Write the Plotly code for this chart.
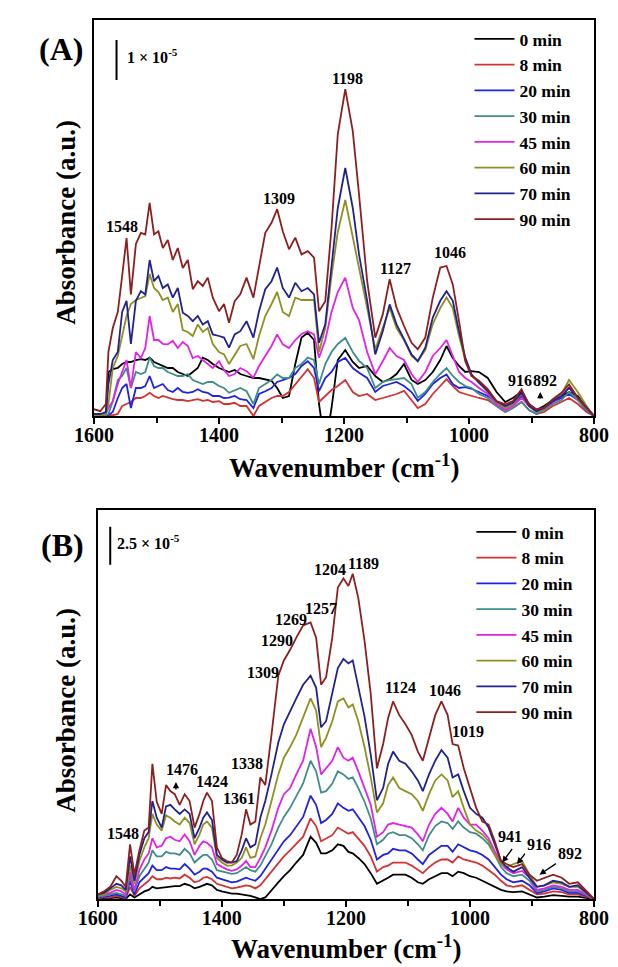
import plotly.graph_objects as go

W, H = 618, 967

labels = ["0 min", "8 min", "20 min", "30 min", "45 min", "60 min", "70 min", "90 min"]
colors = ["#000000", "#d43232", "#2121e0", "#3f8c8c", "#e023e6", "#8f8f22", "#22228c", "#8c1f1f"]

# ---------------- Panel A ----------------
wn_a = [1600,1590,1581,1577,1570,1562,1555,1548,1541,1533, 1525,1518,1511,1504,1497,1490,1482,1474,1466,1458,
        1450,1442,1434,1426,1418,1410,1400,1392,1384,1375, 1366,1356,1345,1336,1326,1316,1307,1298,1288,1278,
        1268,1258,1248,1240,1230,1220,1210,1198,1186,1176, 1163,1150,1138,1127,1116,1104,1092,1082,1070,1058,
        1046,1036,1026,1016,1006,996,984,970,956,942, 930,916,904,892,880,866,852,840,826,812, 800]

a0 = [0.02,0.02,0.02,1.1,1.17,1.2,1.3,1.35,1.35,1.4, 1.42,1.4,1.46,1.35,1.3,1.25,1.2,1.2,1.1,1.05,
      1.0,1.1,1.2,1.46,1.4,1.3,1.2,1.15,1.1,1.15, 1.05,1.0,0.95,0.95,0.92,0.88,0.7,0.45,0.5,1.3,
      1.96,2.08,1.9,0.3,-0.8,0.2,1.4,1.65,1.35,1.2, 1.25,1.0,0.85,0.92,1.05,1.3,0.9,0.8,0.9,1.1,
      1.4,1.75,1.45,1.25,1.1,1.12,1.1,0.95,0.6,0.35, 0.45,0.6,0.3,0.15,0.25,0.4,0.5,0.6,0.5,0.2, 0.0]
a8 = [0.02,0.02,0.02,0.02,0.02,0.05,0.25,0.3,0.35,0.45, 0.45,0.5,0.58,0.5,0.45,0.5,0.45,0.42,0.4,0.4,
      0.37,0.4,0.42,0.38,0.4,0.35,0.37,0.3,0.3,0.33, 0.25,0.25,0.0,0.25,0.35,0.45,0.5,0.5,0.6,0.8,
      1.0,1.17,0.95,0.35,0.5,0.65,0.75,0.9,0.6,0.5, 0.55,0.4,0.45,0.5,0.55,0.63,0.38,0.2,0.3,0.55,
      0.75,0.92,0.75,0.6,0.55,0.5,0.45,0.4,0.25,0.1, 0.2,0.35,0.15,0.05,0.1,0.25,0.35,0.45,0.3,0.1, 0.0]
a20 = [0.02,0.02,0.02,0.02,0.1,0.45,0.7,0.8,0.2,0.7, 0.7,0.75,1.0,0.7,0.75,0.8,0.65,0.6,0.7,0.6,
       0.58,0.6,0.67,0.6,0.58,0.5,0.5,0.45,0.46,0.5, 0.42,0.4,0.2,0.55,0.62,0.7,0.85,0.9,0.95,1.05,
       1.25,1.37,1.2,0.62,0.95,1.1,1.35,1.45,1.2,1.08, 0.95,0.6,0.75,0.8,0.85,0.75,0.6,0.38,0.55,0.8,
       0.95,1.04,0.8,0.7,0.72,0.68,0.6,0.5,0.35,0.2, 0.3,0.5,0.25,0.12,0.2,0.35,0.45,0.55,0.4,0.15, 0.0]
a30 = [0.02,0.02,0.02,0.05,0.37,0.9,1.0,1.2,0.7,1.1, 1.05,1.1,1.46,1.25,1.2,1.2,1.1,1.05,1.0,1.0,
       1.05,0.9,0.85,0.8,0.85,0.85,0.75,0.7,0.58,0.65, 0.7,0.62,0.3,0.7,0.8,0.9,1.04,0.95,0.95,1.2,
       1.3,1.46,1.4,0.8,1.3,1.6,1.8,1.95,1.6,1.38, 1.2,0.7,0.85,0.9,0.92,0.95,0.8,0.46,0.6,0.85,
       1.05,1.2,1.0,0.85,0.75,0.7,0.55,0.45,0.25,0.1, 0.2,0.35,0.15,0.05,0.15,0.3,0.4,0.6,0.4,0.15, 0.0]
a45 = [0.02,0.02,0.05,0.2,0.37,0.8,1.1,1.4,0.7,1.6, 1.45,1.7,2.5,1.9,1.9,1.8,1.79,1.88,1.7,1.85,
       1.75,1.45,1.5,1.4,1.3,1.2,1.37,1.15,1.0,1.05, 1.2,1.12,0.96,1.25,1.5,1.75,2.04,1.79,1.7,1.9,
       2.05,2.12,2.04,1.46,1.9,2.6,3.1,3.46,2.7,2.4, 1.6,1.04,1.37,1.7,1.5,1.4,1.05,0.85,1.1,1.5,
       1.7,1.9,1.5,1.1,0.95,0.85,0.7,0.55,0.3,0.15, 0.25,0.45,0.25,0.1,0.2,0.35,0.5,0.7,0.45,0.2, 0.0]
a60 = [0.02,0.02,0.05,0.3,1.2,1.5,2.0,2.5,2.8,2.9, 2.95,3.0,3.55,3.2,3.1,2.9,2.96,2.6,2.8,2.15,
       2.1,2.0,2.29,2.1,2.2,1.8,1.6,1.54,1.3,1.54, 1.75,1.8,1.42,2.0,2.5,2.8,3.1,2.6,2.5,2.96,
       2.9,2.9,2.9,1.6,2.2,3.5,4.6,5.4,4.5,3.7, 2.7,1.67,2.2,2.7,2.2,1.9,1.5,1.37,1.65,2.3,
       2.7,2.96,2.7,2.0,1.4,1.0,0.85,0.6,0.35,0.2, 0.3,0.55,0.25,0.1,0.2,0.4,0.55,0.9,0.6,0.25, 0.0]
a70 = [0.05,0.05,0.1,0.8,1.4,1.6,2.6,2.88,1.8,2.88, 3.12,3.04,3.9,3.37,3.5,3.2,3.29,2.96,3.2,2.58,
       2.5,2.37,2.5,2.29,2.37,2.04,2.0,1.96,1.71,2.04, 2.12,2.37,1.96,2.62,3.17,3.37,3.71,3.2,2.96,3.33,
       3.12,3.2,3.04,1.83,2.29,3.71,5.2,6.2,5.2,4.04, 2.88,1.54,2.12,2.79,2.29,1.92,1.54,1.37,1.71,2.46,
       2.88,3.12,2.88,2.12,1.46,1.04,0.83,0.62,0.37,0.25, 0.33,0.58,0.25,0.12,0.2,0.37,0.5,0.71,0.46,0.2, 0.0]
a90 = [0.17,0.12,0.3,1.6,2.2,2.6,3.5,4.45,3.04,4.3, 4.58,4.54,5.33,4.54,4.62,4.2,4.4,3.9,4.2,3.7,
       3.9,3.17,3.37,3.25,3.46,2.96,2.62,2.8,2.33,2.87, 3.04,3.46,2.96,3.7,4.58,4.83,5.17,4.62,4.17,4.46,
       4.04,4.12,3.96,2.62,2.87,4.7,7.04,8.17,7.12,5.54, 3.37,1.96,2.54,3.42,2.71,2.25,1.83,1.67,1.96,2.96,
       3.71,3.75,3.29,2.37,1.37,1.0,0.88,0.67,0.37,0.29, 0.37,0.67,0.29,0.17,0.2,0.42,0.58,0.79,0.46,0.2, 0.0]

# ---------------- Panel B ----------------
wn_b = [1600,1590,1580,1570,1562,1555,1548,1541,1533,1525, 1518,1512,1505,1497,1490,1483,1476,1468,1460,1452,
        1444,1436,1430,1424,1416,1408,1400,1392,1384,1376, 1368,1361,1354,1346,1338,1330,1320,1309,1300,1290,
        1280,1269,1257,1248,1240,1232,1222,1213,1204,1196, 1189,1180,1170,1160,1150,1140,1132,1124,1114,1104,
        1094,1084,1076,1066,1056,1046,1036,1028,1019,1010, 1000,990,980,970,960,950,941,930,916,904,
        892,880,866,852,840,826,812,800]

b0 = [0.0,0.05,0.05,0.1,0.05,0.0,0.3,0.1,0.3,0.5, 0.6,0.8,0.7,0.75,0.8,0.8,0.85,0.85,1.0,0.9,
      0.7,0.8,0.9,1.0,0.9,0.6,0.5,0.4,0.35,0.35, 0.3,0.25,0.2,0.1,0.0,0.1,0.6,1.1,1.5,1.9,
      2.4,2.9,4.1,3.7,3.0,3.0,3.2,3.6,3.5,3.1, 3.0,2.7,2.3,1.7,1.0,1.2,1.4,1.6,1.6,1.6,
      1.4,1.1,1.0,1.3,1.5,1.7,1.7,1.5,1.8,1.7, 1.5,1.4,1.2,1.0,0.8,0.6,0.5,0.45,0.5,0.3,
      0.1,0.15,0.25,0.2,0.15,0.15,0.05,0.0]
b8 = [0.05,0.1,0.1,0.2,0.1,0.05,0.8,0.2,0.7,1.0, 1.2,1.5,1.3,1.3,1.4,1.35,1.4,1.35,1.6,1.4,
      1.1,1.2,1.4,1.45,1.3,1.0,0.9,0.8,0.7,0.75, 0.85,0.9,0.85,0.7,0.9,1.3,1.8,2.4,2.8,3.2,
      3.6,4.1,5.3,4.8,3.8,4.0,4.2,4.7,4.5,4.3, 4.4,4.0,3.5,2.8,1.8,2.1,2.2,2.4,2.4,2.4,
      2.2,1.9,1.7,2.1,2.4,2.6,2.6,2.4,2.8,2.6, 2.5,2.4,2.2,1.9,1.6,1.2,0.9,0.8,0.9,0.6,
      0.3,0.35,0.5,0.45,0.3,0.3,0.15,0.0]
b20 = [0.1,0.15,0.2,0.3,0.2,0.1,1.2,0.3,1.1,1.4, 1.7,2.2,1.9,1.9,2.1,2.0,2.0,1.95,2.3,2.0,
       1.6,1.8,2.0,2.0,1.8,1.4,1.3,1.2,1.1,1.15, 1.3,1.4,1.3,1.2,1.5,2.0,2.6,3.3,3.8,4.2,
       4.8,5.4,6.8,6.2,5.0,5.2,5.6,6.3,6.0,5.8, 5.9,5.4,4.8,3.9,2.6,2.9,3.0,3.3,3.2,3.2,
       3.0,2.6,2.3,2.9,3.2,3.5,3.5,3.1,3.6,3.4, 3.2,3.1,2.9,2.6,2.1,1.6,1.3,1.1,1.2,0.9,
       0.4,0.5,0.7,0.6,0.4,0.4,0.2,0.0]
b30 = [0.15,0.2,0.3,0.4,0.3,0.2,1.5,0.5,1.5,2.0, 2.4,3.2,2.8,2.8,3.1,3.0,3.0,2.9,3.3,3.0,
       2.4,2.7,2.9,2.9,2.6,1.9,1.8,1.7,1.65,1.7, 1.9,2.1,1.9,1.8,2.2,2.8,3.6,4.7,5.4,6.0,
       6.8,7.6,9.1,8.4,7.0,7.1,7.6,8.4,8.2,7.9, 8.0,7.3,6.4,5.3,3.6,3.9,4.3,4.4,4.2,4.2,
       4.0,3.6,3.2,4.2,4.8,5.1,5.0,4.6,5.1,4.7, 4.4,4.3,4.0,3.6,2.9,2.1,1.7,1.5,1.6,1.2,
       0.5,0.6,0.8,0.7,0.5,0.5,0.25,0.0]
b45 = [0.2,0.3,0.4,0.6,0.5,0.3,1.8,0.6,1.9,2.6, 3.0,4.0,3.4,3.5,4.0,4.1,3.9,3.8,4.25,3.8,
       2.9,3.5,3.8,3.7,3.4,2.3,2.1,1.95,1.85,1.95, 2.2,2.5,2.1,2.1,2.7,3.4,4.5,6.0,6.9,7.3,
       8.2,9.1,11.2,10.0,8.2,8.6,9.1,10.0,9.3,9.1, 9.3,8.4,7.3,6.2,4.1,4.4,4.9,5.0,4.9,4.8,
       4.7,4.25,3.8,4.9,5.6,6.0,5.6,5.1,6.0,5.35, 4.9,4.9,4.5,4.0,3.2,2.3,1.95,1.7,1.85,1.4,
       0.6,0.7,0.9,0.8,0.6,0.6,0.3,0.0]
b60 = [0.2,0.3,0.6,0.8,0.7,0.5,2.2,1.0,2.5,3.4, 4.0,5.6,4.9,4.5,5.5,5.35,5.1,4.9,5.35,5.0,
       3.6,4.25,4.9,5.1,4.7,2.7,2.4,2.2,2.2,2.4, 2.7,3.4,2.7,2.8,4.0,4.9,6.45,8.2,9.3,10.0,
       10.8,11.9,13.2,12.4,10.0,10.6,11.7,13.0,13.2,12.6, 12.8,11.7,10.0,8.0,5.7,6.3,7.5,8.0,7.3,7.1,
       6.9,6.45,5.8,6.9,7.8,8.2,7.8,6.7,7.1,6.0, 4.9,4.5,4.25,3.8,2.9,2.3,2.1,2.3,2.5,1.6,
       0.8,0.9,1.1,1.0,0.8,0.8,0.4,0.0]
b70 = [0.3,0.4,0.7,1.0,0.9,0.6,2.8,1.2,2.9,4.0, 4.4,6.45,5.35,4.7,6.1,6.2,5.9,5.6,5.9,5.6,
       4.0,4.7,5.35,5.7,5.2,2.9,2.6,2.4,2.4,2.5, 3.2,4.0,3.4,3.6,5.35,6.45,8.2,10.3,11.5,12.4,
       13.2,14.1,14.7,13.9,11.3,11.7,13.5,15.2,15.8,15.5, 15.7,13.9,12.0,9.5,6.5,7.3,8.9,9.7,9.1,8.9,
       8.4,7.8,7.1,8.2,9.1,9.8,9.3,8.0,8.2,7.1, 6.0,5.6,5.35,4.7,3.6,2.5,2.1,1.8,2.1,1.4,
       0.8,0.9,1.2,1.1,0.8,0.9,0.4,0.0]
b90 = [0.3,0.5,0.8,1.5,1.2,0.8,3.6,1.6,3.2,4.5, 4.7,8.9,6.4,5.6,7.5,7.1,6.9,6.2,6.9,6.45,
       4.7,5.6,6.45,7.0,6.45,3.4,2.7,2.5,2.4,2.9, 4.25,5.9,4.9,5.1,8.0,7.5,10.8,14.7,15.7,16.4,
       17.2,18.0,18.2,17.2,14.1,14.6,17.2,20.5,21.1,20.6, 21.4,19.8,17.0,13.5,8.6,10.2,11.9,13.0,12.1,11.5,
       10.8,9.7,9.1,10.6,12.1,13.0,12.1,10.2,10.1,8.6, 7.3,6.0,5.1,4.9,3.8,2.5,2.3,2.1,2.3,1.6,
       1.2,1.4,1.6,1.4,1.0,1.1,0.5,0.0]

series_a = [a0, a8, a20, a30, a45, a60, a70, a90]
series_b = [b0, b8, b20, b30, b45, b60, b70, b90]

# peak labels (text, wavenumber, absorbance-position)
peaks_a = [("1548", 1555, 4.75), ("1309", 1304, 5.45), ("1198", 1194, 8.45),
           ("1127", 1118, 3.7), ("1046", 1031, 4.08), ("916", 918, 0.9), ("892", 879, 0.88)]
peaks_b = [("1548", 1559, 4.3), ("1476", 1465, 8.55), ("1424", 1416, 7.76), ("1361", 1372, 6.6),
           ("1338", 1360, 8.95), ("1309", 1333, 14.9), ("1290", 1311, 17.0), ("1269", 1289, 18.4),
           ("1257", 1240, 19.1), ("1204", 1226, 21.7), ("1189", 1172, 22.1), ("1124", 1112, 13.9),
           ("1046", 1041, 13.7), ("1019", 1003, 11.05), ("941", 935, 4.1), ("916", 888, 3.6),
           ("892", 838, 3.0)]

SERIF = "Liberation Serif"
fig = go.Figure()

for lab, col, ys in zip(labels, colors, series_a):
    fig.add_trace(go.Scatter(x=wn_a, y=ys, mode="lines", name=lab,
                             line=dict(color=col, width=1.8), xaxis="x", yaxis="y",
                             legend="legend"))
for lab, col, ys in zip(labels, colors, series_b):
    fig.add_trace(go.Scatter(x=wn_b, y=ys, mode="lines", name=lab,
                             line=dict(color=col, width=1.8), xaxis="x2", yaxis="y2",
                             legend="legend2"))

def px_x(p):
    return p / W

def px_y(p):
    return 1 - p / H

axis_common = dict(showline=True, mirror=True, linecolor="black", linewidth=2,
                   showgrid=False, zeroline=False)
xcommon = dict(axis_common, range=[1600, 800], tick0=800, dtick=200, ticks="outside",
               ticklen=6, tickwidth=2, tickcolor="black", ticklabelstandoff=-6,
               minor=dict(dtick=100, ticks="outside", ticklen=5, tickwidth=2, tickcolor="black"),
               tickfont=dict(family=SERIF, size=20, color="black", weight="bold"))
ycommon = dict(axis_common, showticklabels=False, ticks="")

annotations = []
tfont = dict(family=SERIF, size=16, color="black", weight="bold")
for t, x, y in peaks_a:
    annotations.append(dict(text=t, x=x, y=y, xref="x", yref="y", showarrow=False, font=tfont,
                            xanchor="center", yanchor="middle"))
for t, x, y in peaks_b:
    annotations.append(dict(text=t, x=x, y=y, xref="x2", yref="y2", showarrow=False, font=tfont,
                            xanchor="center", yanchor="middle"))

# small arrows
arrow = dict(text="", showarrow=True, arrowhead=2, arrowsize=0.9, arrowwidth=1.4, arrowcolor="black")
annotations.append(dict(arrow, x=886, y=0.6, xref="x", yref="y", ax=0, ay=8))
annotations.append(dict(arrow, x=1474, y=7.7, xref="x2", yref="y2", ax=0, ay=9))
annotations.append(dict(arrow, x=948, y=2.4, xref="x2", yref="y2", ax=11, ay=-15))
annotations.append(dict(arrow, x=924, y=2.3, xref="x2", yref="y2", ax=9, ay=-12))
annotations.append(dict(arrow, x=888, y=1.6, xref="x2", yref="y2", ax=18, ay=-12))

# scale bar labels
annotations.append(dict(text="1 × 10<sup>-5</sup>", x=1550, y=9.0, xref="x", yref="y",
                        xanchor="left", yanchor="middle", showarrow=False, font=tfont))
annotations.append(dict(text="2.5 × 10<sup>-5</sup>", x=1573, y=23.5, xref="x2", yref="y2",
                        xanchor="left", yanchor="middle", showarrow=False, font=tfont))

# panel letters and axis titles
big = dict(family=SERIF, size=32, color="black", weight="bold")
ttl = dict(family=SERIF, size=27, color="black", weight="bold")
pp = dict(xref="paper", yref="paper", showarrow=False, xanchor="center", yanchor="middle")
annotations += [
    dict(pp, text="(A)", x=px_x(35), y=px_y(41), font=big),
    dict(pp, text="(B)", x=px_x(37), y=px_y(537), font=big),
    dict(pp, text="Wavenumber (cm<sup>-1</sup>)", x=px_x(335), y=px_y(458), font=ttl),
    dict(pp, text="Wavenumber (cm<sup>-1</sup>)", x=px_x(337), y=px_y(939), font=ttl),
    dict(pp, text="Absorbance (a.u.)", x=px_x(40), y=px_y(214), font=ttl, textangle=-90),
    dict(pp, text="Absorbance (a.u.)", x=px_x(40), y=px_y(702), font=ttl, textangle=-90),
]

shapes = [
    dict(type="line", x0=1564, x1=1564, y0=8.4, y1=9.4, xref="x", yref="y",
         line=dict(color="black", width=2)),
    dict(type="line", x0=1580, x1=1580, y0=22.0, y1=24.5, xref="x2", yref="y2",
         line=dict(color="black", width=2)),
]

legfont = dict(family=SERIF, size=17.5, color="black", weight="bold")
fig.update_layout(
    width=W, height=H, margin=dict(l=0, r=0, t=0, b=0),
    paper_bgcolor="white", plot_bgcolor="white",
    xaxis=dict(xcommon, domain=[px_x(70), px_x(600)], anchor="y"),
    yaxis=dict(ycommon, domain=[px_y(408), px_y(12)], range=[0, 9.9], anchor="x"),
    xaxis2=dict(xcommon, domain=[px_x(74), px_x(600)], anchor="y2"),
    yaxis2=dict(ycommon, domain=[px_y(891), px_y(502)], range=[0, 25.6], anchor="x2"),
    legend=dict(x=px_x(468), y=px_y(13), xanchor="left", yanchor="top", font=legfont,
                bgcolor="rgba(0,0,0,0)", itemwidth=40),
    legend2=dict(x=px_x(470), y=px_y(506), xanchor="left", yanchor="top", font=legfont,
                 bgcolor="rgba(0,0,0,0)", itemwidth=40),
    annotations=annotations, shapes=shapes,
)

fig.write_html("out.html")
